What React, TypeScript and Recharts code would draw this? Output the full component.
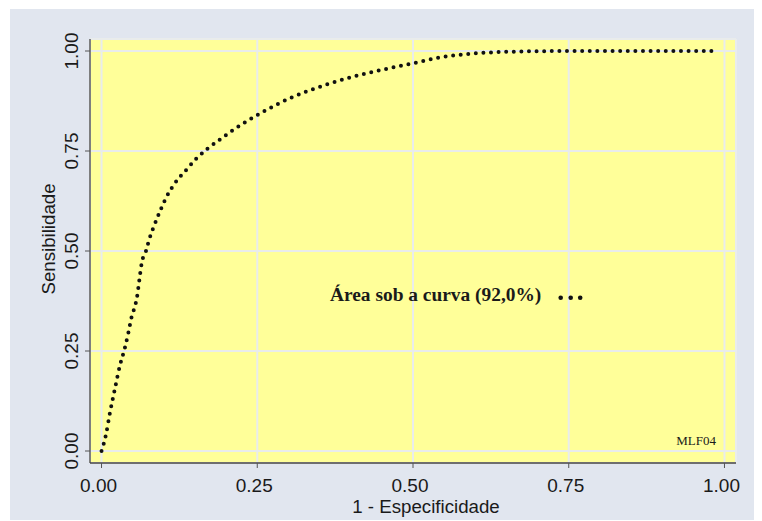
import React from 'react';
import { LineChart, Line, XAxis, YAxis, CartesianGrid, Customized } from 'recharts';

// ROC curve points: 1 - specificity vs. sensitivity
const fpr = [
  0, 0.007, 0.0136, 0.0217, 0.0297, 0.0366, 0.043, 0.048, 0.055, 0.0575, 0.0607, 0.0645,
  0.0714, 0.0763, 0.0843, 0.094, 0.1046, 0.1185, 0.1345, 0.1517, 0.171, 0.192, 0.2127,
  0.257, 0.3026, 0.3624, 0.4246, 0.4995, 0.5433, 0.587, 0.62, 0.68, 0.75, 0.85, 0.986,
];
const tpr = [
  0, 0.04, 0.096, 0.157, 0.215, 0.2525, 0.295, 0.333, 0.37, 0.39, 0.4275, 0.47,
  0.5, 0.5275, 0.5625, 0.6, 0.636, 0.671, 0.7, 0.73, 0.757, 0.781, 0.804,
  0.846, 0.882, 0.9167, 0.944, 0.969, 0.984, 0.9925, 0.996, 0.999, 1, 1, 1,
];
const xTicks = [0, 0.25, 0.5, 0.75, 1];
const yTicks = [0, 0.25, 0.5, 0.75, 1];

const xTitle = '1 - Especificidade';
const yTitle = 'Sensibilidade';
const legendLabel = 'Área sob a curva (92,0%)';
const noteText = 'MLF04';

const rocData = fpr.map((x, i) => ({ fpr: x, tpr: tpr[i] }));

const SANS = '"Liberation Sans", Arial, sans-serif';
const SERIF = '"Liberation Serif", "Times New Roman", serif';
const TEXT = '#1a1a1a';

const XTick = ({ x, y, payload }: any) => (
  <text x={x - 3} y={y + 24} textAnchor="middle" fontFamily={SANS} fontSize={19} fill={TEXT}>
    {Number(payload.value).toFixed(2)}
  </text>
);

const YTick = ({ x, y, payload }: any) => (
  <text
    transform={`translate(${x - 7.5},${y}) rotate(-90)`}
    textAnchor="middle"
    fontFamily={SANS}
    fontSize={19}
    fill={TEXT}
  >
    {Number(payload.value).toFixed(2)}
  </text>
);

// titles, in-plot legend and note
const Extras = () => (
  <g>
    <text x={416} y={503.7} textAnchor="middle" fontFamily={SANS} fontSize={18.7} fill={TEXT}>
      {xTitle}
    </text>
    <text
      transform="translate(45,230) rotate(-90)"
      textAnchor="middle"
      fontFamily={SANS}
      fontSize={18.7}
      fill={TEXT}
    >
      {yTitle}
    </text>
    <text x={320} y={291.7} fontFamily={SERIF} fontWeight="bold" fontSize={19.4} fill={TEXT}>
      {legendLabel}
    </text>
    {[550.7, 560.7, 570.2].map((cx) => (
      <circle key={cx} cx={cx} cy={288.7} r={2.3} fill="#111" />
    ))}
    <text x={706} y={436} textAnchor="end" fontFamily={SERIF} fontSize={13} fill={TEXT}>
      {noteText}
    </text>
  </g>
);

export default function App() {
  return (
    <div style={{ position: 'relative', left: 2, top: 1, width: 752, height: 512, background: '#e1e6ef' }}>
      <LineChart width={752} height={512} data={rocData} margin={{ top: 30, right: 26, left: 0, bottom: 0 }}>
        <CartesianGrid fill="#ffff99" stroke="#e9ecec" strokeWidth={2} />
        <XAxis
          dataKey="fpr"
          type="number"
          domain={[-0.0185, 1.0185]}
          ticks={xTicks}
          height={58}
          tickSize={5}
          tickMargin={0}
          axisLine={{ stroke: '#444', strokeWidth: 1.3 }}
          tickLine={{ stroke: '#555' }}
          tick={<XTick />}
          allowDataOverflow
        />
        <YAxis
          dataKey="tpr"
          type="number"
          domain={[-0.03, 1.03]}
          ticks={yTicks}
          width={80}
          tickSize={5}
          tickMargin={0}
          axisLine={{ stroke: '#444', strokeWidth: 1.3 }}
          tickLine={{ stroke: '#555' }}
          tick={<YTick />}
          allowDataOverflow
        />
        <Line
          dataKey="tpr"
          type="monotone"
          stroke="#111"
          strokeWidth={4}
          strokeDasharray="0 7.6"
          strokeLinecap="round"
          dot={false}
          activeDot={false}
          isAnimationActive={false}
        />
        <Customized component={Extras} />
      </LineChart>
    </div>
  );
}
